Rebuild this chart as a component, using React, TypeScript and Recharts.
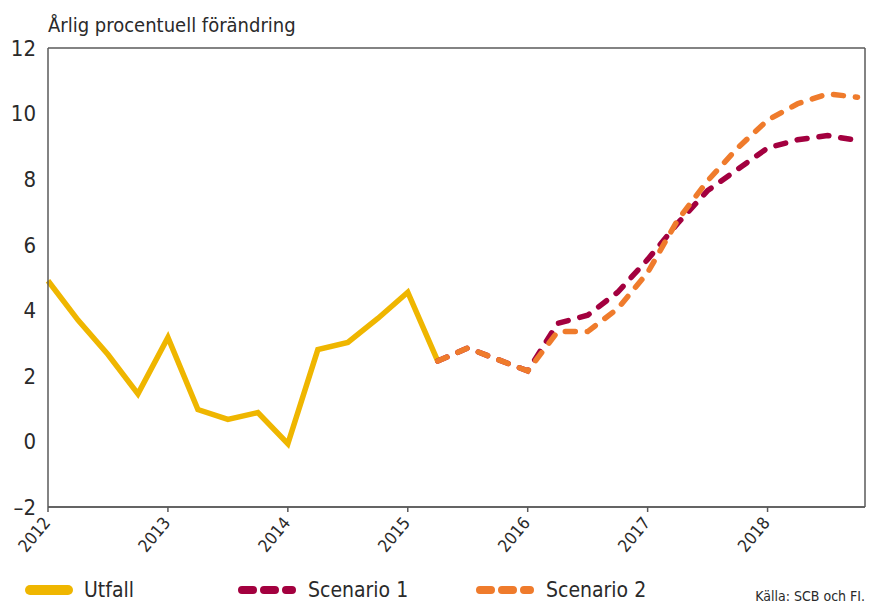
import * as React from "react";
import { LineChart, Line, XAxis, YAxis, CartesianGrid } from "recharts";

// quarterly index, 0 = 2012 Q1
const quarters = [
  0, 1, 2, 3, 4, 5, 6, 7, 8, 9, 10, 11, 12, 13, 14, 15, 16, 17, 18, 19, 20,
  21, 22, 23, 24, 25, 26, 27,
];
const utfall = [
  4.9, 3.7, 2.65, 1.45, 3.17, 0.97, 0.67, 0.88, -0.07, 2.8, 3.02, 3.75, 4.55,
  2.45,
];
const scenario1 = [
  2.45, 2.85, 2.5, 2.15, 3.6, 3.85, 4.55, 5.55, 6.65, 7.65, 8.3, 8.95, 9.2,
  9.33, 9.18,
];
const scenario2 = [
  2.45, 2.85, 2.5, 2.15, 3.35, 3.35, 4.05, 5.15, 6.75, 7.95, 8.95, 9.8, 10.3,
  10.6, 10.5,
];
const scenarioStart = 13;
const yearTicks = [0, 4, 8, 12, 16, 20, 24];
const yTicks = [-2, 0, 2, 4, 6, 8, 10, 12];

const FONT = "'DejaVu Sans Condensed', 'DejaVu Sans', sans-serif";
const TEXT = "#2a2a2a";
const GRID = "#5a5a5a";
const YELLOW = "#EFB600";
const MAROON = "#A3003F";
const ORANGE = "#EF7B2C";

const fmtY = (v: number) => (v < 0 ? `\u2013${Math.abs(v)}` : `${v}`);

function YearTick(props: any) {
  const { x, y, payload } = props;
  return (
    <g transform={`translate(${x},${y + 4})`}>
      <text
        transform="rotate(-50)"
        textAnchor="end"
        dominantBaseline="central"
        fontSize={17}
        fill={TEXT}
        fontFamily={FONT}
        x={-2}
        y={0}
      >
        {2012 + payload.value / 4}
      </text>
    </g>
  );
}

export default function App() {
  const data = quarters.map((q) => ({
    q,
    utfall: q < utfall.length ? utfall[q] : null,
    s1: q >= scenarioStart ? scenario1[q - scenarioStart] : null,
    s2: q >= scenarioStart ? scenario2[q - scenarioStart] : null,
  }));

  const legendItem = (left: number, color: string, dashed: boolean, label: string) => (
    <div
      style={{
        position: "absolute",
        left,
        top: 578,
        display: "flex",
        alignItems: "center",
        fontFamily: FONT,
        fontSize: 21,
        color: TEXT,
      }}
    >
      <svg width={dashed ? 62 : 50} height={14} style={{ marginRight: 10 }}>
        <line
          x1={6}
          x2={dashed ? 56 : 44}
          y1={7}
          y2={7}
          stroke={color}
          strokeWidth={dashed ? 8 : 10}
          strokeLinecap="round"
          strokeDasharray={dashed ? "11 11" : undefined}
        />
      </svg>
      {label}
    </div>
  );

  return (
    <div
      style={{
        position: "absolute",
        left: 0,
        top: 0,
        width: 895,
        height: 606,
        background: "#fff",
      }}
    >
      <div
        style={{
          position: "absolute",
          left: 48,
          top: 13,
          fontFamily: FONT,
          fontSize: 20,
          color: TEXT,
        }}
      >
        Årlig procentuell förändring
      </div>
      <LineChart
        width={895}
        height={606}
        data={data}
        margin={{ top: 48, right: 0, left: 0, bottom: 0 }}
      >
        <CartesianGrid stroke={GRID} strokeWidth={1.5} vertical={false} />
        <XAxis
          dataKey="q"
          type="number"
          domain={[0, 27.25]}
          ticks={yearTicks}
          tick={<YearTick />}
          height={99}
          axisLine={{ stroke: GRID, strokeWidth: 1.5 }}
          tickLine={{ stroke: GRID, strokeWidth: 1.5 }}
          tickSize={5}
          interval={0}
        />
        <YAxis
          yAxisId="left"
          domain={[-2, 12]}
          ticks={yTicks}
          width={48}
          tickFormatter={fmtY}
          axisLine={{ stroke: GRID, strokeWidth: 1.5 }}
          tickLine={false}
          tickSize={4}
          tickMargin={8}
          tick={{ fill: TEXT, fontSize: 22, fontFamily: FONT }}
          interval={0}
        />
        <YAxis
          yAxisId="right"
          orientation="right"
          domain={[-2, 12]}
          ticks={yTicks}
          width={30}
          tickFormatter={fmtY}
          axisLine={{ stroke: GRID, strokeWidth: 1.5 }}
          tickLine={false}
          tickSize={2}
          tickMargin={5}
          tick={{ fill: TEXT, fontSize: 22, fontFamily: FONT }}
          interval={0}
        />
        <Line
          yAxisId="left"
          type="linear"
          dataKey="utfall"
          stroke={YELLOW}
          strokeWidth={5.5}
          dot={false}
          connectNulls={false}
          isAnimationActive={false}
        />
        <Line
          yAxisId="left"
          type="linear"
          dataKey="s1"
          stroke={MAROON}
          strokeWidth={5.5}
          strokeDasharray="10 12"
          strokeLinecap="round"
          dot={false}
          isAnimationActive={false}
        />
        <Line
          yAxisId="left"
          type="linear"
          dataKey="s2"
          stroke={ORANGE}
          strokeWidth={5.5}
          strokeDasharray="10 12"
          strokeLinecap="round"
          dot={false}
          isAnimationActive={false}
        />
      </LineChart>
      {legendItem(24, YELLOW, false, "Utfall")}
      {legendItem(236, MAROON, true, "Scenario 1")}
      {legendItem(474, ORANGE, true, "Scenario 2")}
      <div
        style={{
          position: "absolute",
          right: 30,
          top: 588,
          fontFamily: FONT,
          fontSize: 14,
          color: TEXT,
        }}
      >
        Källa: SCB och FI.
      </div>
    </div>
  );
}
